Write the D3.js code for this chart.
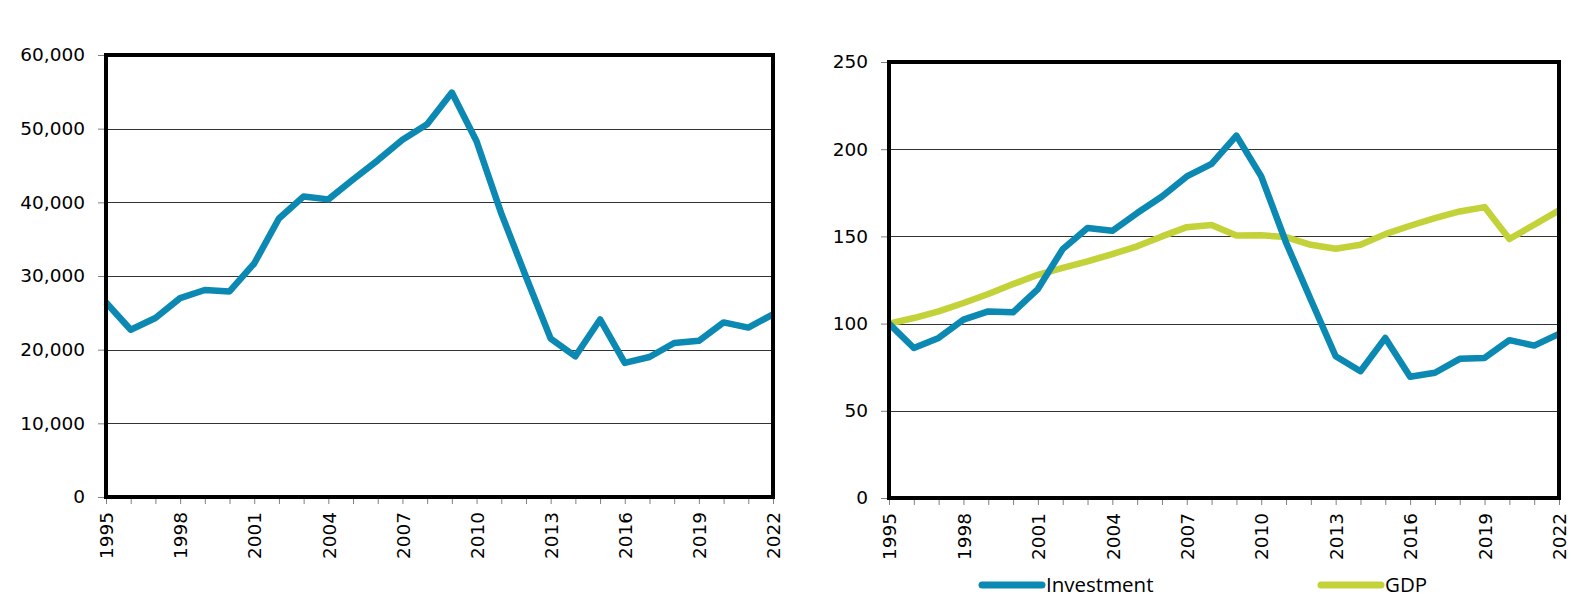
<!DOCTYPE html>
<html>
<head>
<meta charset="utf-8">
<script src="https://cdn.jsdelivr.net/npm/d3@7"></script>
<style>
  body { margin: 0; background: #fff; }
  svg text { font-family: "DejaVu Sans", Verdana, sans-serif; fill: #000; }
</style>
</head>
<body>
<div id="chart_div"></div>
<script>
var years = [1995, 1996, 1997, 1998, 1999, 2000, 2001, 2002, 2003, 2004, 2005, 2006, 2007, 2008,
             2009, 2010, 2011, 2012, 2013, 2014, 2015, 2016, 2017, 2018, 2019, 2020, 2021, 2022];
var yearLabels = [1995, 1998, 2001, 2004, 2007, 2010, 2013, 2016, 2019, 2022];

// left panel: investment level
var investmentLevel = [26400, 22700, 24300, 27000, 28100, 27900, 31700, 37800, 40800, 40400, 43100, 45700, 48500, 50600,
                       54900, 48300, 38500, 29900, 21500, 19100, 24100, 18200, 19000, 20900, 21200, 23700, 23000, 24800];
var levelTicks = [0, 10000, 20000, 30000, 40000, 50000, 60000];

// right panel: index, 1995 = 100
var investmentIndex = [100, 86, 91.8, 102.3, 107, 106.5, 119.8, 142.7, 154.8, 153.2, 163.4, 172.9, 184.4, 191.6,
                       207.8, 184.4, 146.5, 113.7, 81.3, 72.7, 91.8, 69.5, 71.8, 79.8, 80.3, 90.5, 87.4, 94.1];
var gdpIndex = [100, 103.2, 107, 111.8, 117, 122.7, 128, 131.9, 135.7, 139.9, 144.3, 150, 155.3, 156.5,
                150.5, 150.6, 149.6, 145.2, 142.9, 145.2, 151.3, 156.1, 160.5, 164.3, 166.8, 148.5, 156.7, 164.9];
var indexTicks = [0, 50, 100, 150, 200, 250];

var seriesNames = ["Investment", "GDP"];
const BLUE = "#0b89b2", GREEN = "#c4d23a";

var width = 1571, height = 613;
var svg = d3.select("#chart_div").append("svg")
    .attr("width", width)
    .attr("height", height);

function drawPanel(box, series, yTicks, yFormat) {
    var x = d3.scaleLinear()
        .domain([years[0], years[years.length - 1]])
        .range([box.left, box.right]);
    var y = d3.scaleLinear()
        .domain([0, yTicks[yTicks.length - 1]])
        .range([box.bottom, box.top]);

    var g = svg.append("g");

    // gridlines
    g.selectAll(".grid")
        .data(yTicks.slice(1, -1))
        .enter()
        .append("line")
        .attr("x1", box.left)
        .attr("x2", box.right)
        .attr("y1", d => Math.round(y(d)) + 0.5)
        .attr("y2", d => Math.round(y(d)) + 0.5)
        .style("stroke", "#333")
        .style("stroke-width", 1)
        .style("shape-rendering", "crispEdges");

    // y axis
    g.append("g")
        .attr("transform", "translate(" + box.left + ",0)")
        .call(d3.axisLeft(y).tickValues(yTicks).tickSize(8).tickPadding(13).tickFormat(yFormat))
        .call(a => a.select(".domain").remove())
        .call(a => a.selectAll("line").style("stroke", "#808080"))
        .call(a => a.selectAll("text").style("font-size", "18.5px").style("font-family", "DejaVu Sans"));

    // x axis, a tick per year, a label every third year
    g.append("g")
        .attr("transform", "translate(0," + box.bottom + ")")
        .call(d3.axisBottom(x).tickValues(years).tickSize(7)
            .tickFormat(d => yearLabels.indexOf(d) >= 0 ? String(d) : ""))
        .call(a => a.select(".domain").remove())
        .call(a => a.selectAll("line").style("stroke", "#808080"))
        .call(a => a.selectAll("text")
            .style("font-size", "18.5px")
            .style("font-family", "DejaVu Sans")
            .attr("text-anchor", "end")
            .attr("transform", "translate(0,5) rotate(-90)")
            .attr("x", -10)
            .attr("y", 0)
            .attr("dy", "0.36em"));

    var line = d3.line()
        .x((d, i) => x(years[i]))
        .y(d => y(d));

    series.forEach(s => {
        g.append("path")
            .datum(s.values)
            .attr("d", line)
            .style("fill", "none")
            .style("stroke", s.color)
            .style("stroke-width", 6.5)
            .style("stroke-linejoin", "round");
    });

    // frame
    g.append("rect")
        .attr("x", box.left)
        .attr("y", box.top)
        .attr("width", box.right - box.left)
        .attr("height", box.bottom - box.top)
        .style("fill", "none")
        .style("stroke", "#000")
        .style("stroke-width", 4);
}

drawPanel({left: 106, right: 773, top: 55, bottom: 497},
    [{values: investmentLevel, color: BLUE}],
    levelTicks, d3.format(","));

drawPanel({left: 889, right: 1559, top: 62, bottom: 498},
    [{values: gdpIndex, color: GREEN}, {values: investmentIndex, color: BLUE}],
    indexTicks, d3.format("d"));

// legend
var legendX = [982, 1321];
var legendColors = [BLUE, GREEN];
var legend = svg.append("g").selectAll("g")
    .data(seriesNames)
    .enter()
    .append("g")
    .attr("transform", (d, i) => "translate(" + legendX[i] + ",585)");
legend.append("line")
    .attr("x1", 0)
    .attr("x2", 60)
    .style("stroke", (d, i) => legendColors[i])
    .style("stroke-width", 7)
    .style("stroke-linecap", "round");
legend.append("text")
    .attr("x", 64)
    .attr("dy", "0.35em")
    .style("font-family", "Open Sans")
    .style("font-size", "20.5px")
    .text(d => d);
</script>
</body>
</html>
